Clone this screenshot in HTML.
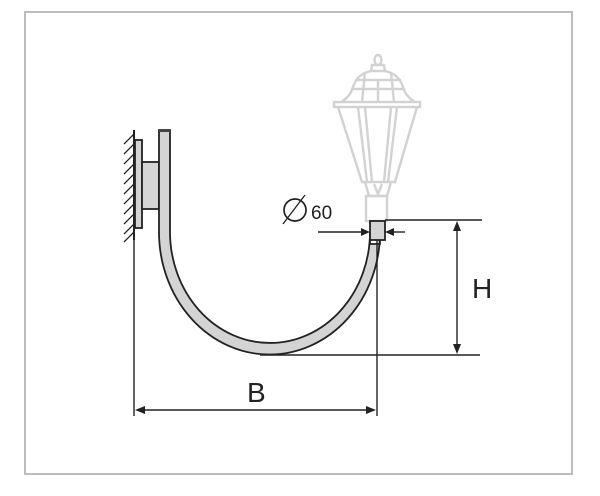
<!DOCTYPE html>
<html><head><style>html,body{margin:0;padding:0;background:#fff}svg{display:block}</style></head>
<body>
<svg width="600" height="496" viewBox="0 0 600 496" xmlns="http://www.w3.org/2000/svg" font-family="Liberation Sans, sans-serif">
<rect x="25" y="12" width="547" height="462" fill="#fff" stroke="#bdbdbd" stroke-width="2"/>
<!-- lamp (light gray) -->
<g fill="none" stroke="#d2d2d2" stroke-width="2.4">
<ellipse cx="378" cy="60" rx="3.5" ry="5"/>
<path d="M372 65 h12 l1 6 h-14 z"/>
<path d="M371 71 q-14 3 -18 16 q-3 10 -12 15 M385 71 q14 3 18 16 q3 10 12 15"/>
<line x1="355" y1="80" x2="401" y2="80"/>
<line x1="351" y1="89" x2="405" y2="89"/>
<line x1="365" y1="72" x2="362" y2="102"/><line x1="391" y1="72" x2="394" y2="102"/>
<line x1="378" y1="80" x2="378" y2="102"/>
<rect x="334" y="102" width="86" height="5"/>
<path d="M338 107 l24 75 h33 l22 -75"/>
<path d="M358 107 l9 75 M365 107 l7 75 M397 107 l-9 75 M391 107 l-7 75"/>
<path d="M365 182 l4 14 h18 l4 -14"/>
<path d="M374 184 l4 10 l4 -10"/>
<rect x="366" y="196" width="21" height="25"/>
</g>
<!-- wall hatch -->
<line x1="134" y1="130" x2="134" y2="240" stroke="#222" stroke-width="2"/>
<g stroke="#222" stroke-width="1.3">
<path d="M134 134 l-10 10 M134 144 l-10 10 M134 154 l-10 10 M134 164 l-10 10 M134 174 l-10 10 M134 184 l-10 10 M134 194 l-10 10 M134 204 l-10 10 M134 214 l-10 10 M134 224 l-10 10 M134 232 l-10 10"/>
</g>
<rect x="135" y="140" width="7" height="88" fill="#d4d4d4" stroke="#222" stroke-width="1.8"/>
<rect x="142" y="162" width="17" height="47" fill="#d4d4d4" stroke="#222" stroke-width="1.8"/>
<!-- pipe -->
<path d="M159 130 V232 A110 122 0 0 0 380 232 V244 H370 V232 A100 111 0 0 1 170 232 V130 Z" fill="#d4d4d4" stroke="#222" stroke-width="1.8"/>
<rect x="159" y="129" width="11" height="3" fill="#444"/>
<rect x="370" y="221" width="15" height="19" fill="#d4d4d4" stroke="#222" stroke-width="1.8"/>
<!-- dimension lines -->
<g stroke="#222" stroke-width="1.4" fill="none">
<line x1="134" y1="240" x2="134" y2="416"/>
<line x1="377" y1="240" x2="377" y2="416"/>
<line x1="138" y1="410" x2="373" y2="410"/>
<line x1="385" y1="220" x2="482" y2="220"/>
<line x1="260" y1="355" x2="480" y2="355"/>
<line x1="457" y1="225" x2="457" y2="350"/>
<line x1="318" y1="232" x2="366" y2="232"/>
<line x1="389" y1="232" x2="405" y2="232"/>
<line x1="283" y1="224" x2="305" y2="195" stroke-width="1.3"/>
<circle cx="295" cy="210" r="11" stroke-width="1.7"/>
</g>
<g fill="#222">
<path d="M135 410 l10 -4 v8 z"/><path d="M376 410 l-10 -4 v8 z"/>
<path d="M457 221 l-4 10 h8 z"/><path d="M457 354 l-4 -10 h8 z"/>
<path d="M370 232 l-9 -4 v8 z"/><path d="M385 232 l9 -4 v8 z"/>
</g>
<text x="311" y="219" font-size="19" fill="#222">60</text>
<text x="247" y="402" font-size="28" fill="#222">B</text>
<text x="472" y="298" font-size="28" fill="#222">H</text>
</svg>
</body></html>
